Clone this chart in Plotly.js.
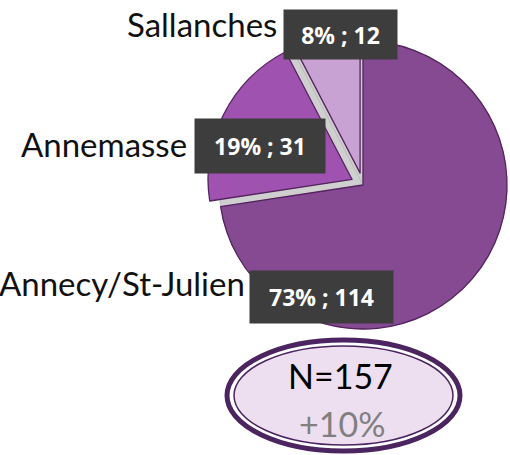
<!DOCTYPE html>
<html>
<head>
<meta charset="utf-8">
<script src="https://cdn.plot.ly/plotly-3.0.1.min.js"></script>
<style>
html,body{margin:0;padding:0;overflow:hidden;background:#fff;width:510px;height:455px;}
#chart{width:560px;height:455px;}
</style>
</head>
<body>
<div id="chart"></div>
<script>
// ---- data ----
var categories = ["Annecy/St-Julien", "Annemasse", "Sallanches"];
var counts = [114, 31, 12];
var percents = [73, 19, 8];
var pulls = [0, 0.085, 0.085];
var colors = ["#854A91", "#A052B0", "#C8A2D2"];
var growthLabel = "+10%";

// ---- layout helpers ----
var W = 560, H = 455;
function px(x){ return x / W; }
function py(y){ return 1 - y / H; }

var total = counts.reduce(function(a,b){return a+b;}, 0);

var cx = 363, cy = 185, R = 144;
var maxPull = Math.max.apply(null, pulls);
var half = R * (1 + maxPull);

var traces = [
  { // shadow / gap underlay
    type: "pie", values: counts, labels: categories, sort: false,
    direction: "clockwise", rotation: 0, textinfo: "none", hoverinfo: "skip",
    marker: { colors: ["#cfcfcf","#cfcfcf","#cfcfcf"], line: { color: "#bdbdbd", width: 1 } },
    domain: { x: [px(cx - R), px(cx + R)], y: [py(cy + R), py(cy - R)] },
    showlegend: false
  },
  {
    type: "pie", values: counts, labels: categories, sort: false,
    direction: "clockwise", rotation: 0, textinfo: "none", pull: pulls,
    marker: { colors: colors, line: { color: "#55245F", width: 1.3 } },
    domain: { x: [px(cx - half), px(cx + half)], y: [py(cy + half), py(cy - half)] },
    showlegend: false
  }
];

var labelFont = { family: "Lato, 'Open Sans', sans-serif", size: 33, color: "#111111" };
var boxFont = { family: "'Open Sans', Lato, sans-serif", size: 23, color: "#ffffff", weight: "bold" };

// label positions (right end x, text mid y) and box geometry (cx, cy, w, h)
var labelPos = [[247, 283], [189, 144], [279, 24]];
var boxPos = [[321.5, 297, 143, 52], [260, 145.5, 130, 54], [340.5, 34.5, 113, 49]];

var annotations = [];
for (var i = 0; i < categories.length; i++) {
  annotations.push({
    xref: "paper", yref: "paper", x: px(labelPos[i][0]), y: py(labelPos[i][1]),
    xanchor: "right", yanchor: "middle", showarrow: false,
    text: categories[i], font: labelFont
  });
  annotations.push({
    xref: "paper", yref: "paper", x: px(boxPos[i][0]), y: py(boxPos[i][1]),
    xanchor: "center", yanchor: "middle", showarrow: false,
    width: boxPos[i][2], height: boxPos[i][3], borderpad: 0,
    bgcolor: "#3d3d3d",
    text: percents[i] + "% ; " + counts[i], font: boxFont
  });
}
annotations.push({
  xref: "paper", yref: "paper", x: px(341), y: py(375), xanchor: "center", yanchor: "middle",
  showarrow: false, text: "N=" + total,
  font: { family: "Lato, sans-serif", size: 34, color: "#000000" }
});
annotations.push({
  xref: "paper", yref: "paper", x: px(342), y: py(423), xanchor: "center", yanchor: "middle",
  showarrow: false, text: growthLabel,
  font: { family: "Lato, sans-serif", size: 34, color: "#808080" }
});

var shapes = [
  { type: "circle", xref: "paper", yref: "paper", layer: "above",
    x0: px(227), x1: px(460), y0: py(451), y1: py(340),
    fillcolor: "#ffffff", line: { color: "#4B2460", width: 5 } },
  { type: "circle", xref: "paper", yref: "paper", layer: "above",
    x0: px(234), x1: px(453), y0: py(445), y1: py(346),
    fillcolor: "#EDDFF0", line: { color: "#4B2460", width: 1.5 } }
];

var layout = {
  width: W, height: H,
  margin: { l: 0, r: 0, t: 0, b: 0 },
  paper_bgcolor: "#ffffff",
  showlegend: false,
  annotations: annotations,
  shapes: shapes
};

Plotly.newPlot("chart", traces, layout, { displayModeBar: false, staticPlot: true });
</script>
</body>
</html>
